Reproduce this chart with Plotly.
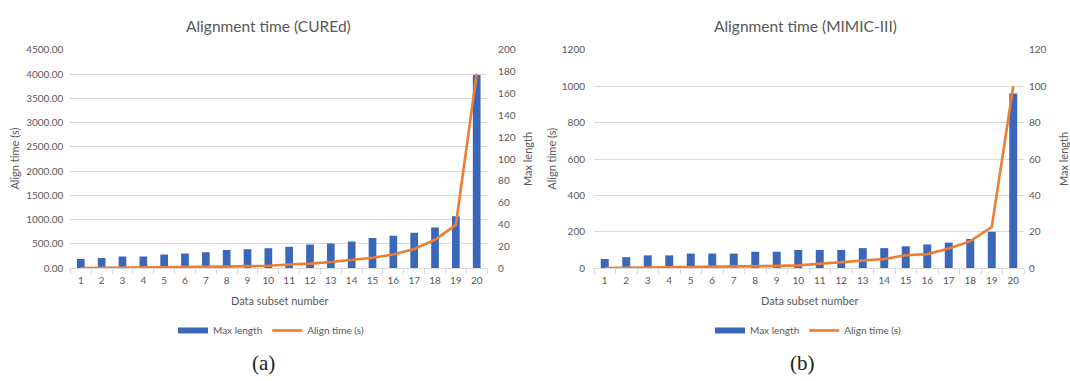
import plotly.graph_objects as go

# Subset numbers shared by both panels
subsets = [str(i) for i in range(1, 21)]

# Panel (a): CUREd
cured_max_length = [190, 210, 240, 240, 280, 300, 327, 373, 387, 407,
                    440, 487, 507, 547, 620, 667, 727, 835, 1067, 3980]
cured_align_time = [0.1, 0.2, 0.3, 0.4, 0.6, 0.8, 1.1, 1.4, 1.8, 2.2,
                    3.3, 4.1, 5.6, 7.4, 9.5, 12.5, 17.5, 26.0, 39.6, 178]

# Panel (b): MIMIC-III
mimic_max_length = [50, 60, 70, 70, 80, 80, 80, 90, 90, 100,
                    100, 100, 110, 110, 120, 130, 140, 160, 200, 960]
mimic_align_time = [0.0, 0.1, 0.2, 0.3, 0.5, 0.7, 0.8, 1.0, 1.2, 1.5,
                    2.3, 3.4, 3.9, 5.0, 7.1, 7.7, 10.8, 14.8, 22.6, 100]

titles = ["Alignment time (CUREd)", "Alignment time (MIMIC-III)"]
captions = ["(a)", "(b)"]

BLUE = "#3A67B9"
ORANGE = "#ED7D31"
GRID = "#D9D9D9"
TXT = "#595959"
FONT = "Lato"

W, H = 1070, 381


def px(x):
    return x / W


def py(y):
    return 1 - y / H


fig = go.Figure()

panels = [
    dict(xa="x", ya="y", ya2="y2", lg="legend", maxlen=cured_max_length,
         align=cured_align_time),
    dict(xa="x2", ya="y3", ya2="y4", lg="legend2", maxlen=mimic_max_length,
         align=mimic_align_time),
]

for p in panels:
    fig.add_trace(go.Bar(x=subsets, y=p["maxlen"], name="Max length",
                         marker=dict(color=BLUE, line=dict(width=0)),
                         showlegend=False,
                         xaxis=p["xa"], yaxis=p["ya"]))
    # wide flat legend key for the bar series
    fig.add_trace(go.Scatter(x=[None], y=[None], name="Max length",
                             mode="lines", line=dict(color=BLUE, width=6),
                             xaxis=p["xa"], yaxis=p["ya"], legend=p["lg"]))
    fig.add_trace(go.Scatter(x=subsets, y=p["align"], name="Align time (s)",
                             mode="lines", line=dict(color=ORANGE, width=2.6),
                             xaxis=p["xa"], yaxis=p["ya2"], legend=p["lg"]))

y_dom = [py(269.6), py(44.3)]
x_doms = [[px(70.4), px(487.1)], [px(594), px(1024)]]

tickfont = dict(family=FONT, size=10, color=TXT)


def x_axis(dom, anchor):
    return dict(domain=dom, anchor=anchor, type="category",
                range=[-0.5, 19.5], showgrid=False, showline=True,
                linecolor=GRID, linewidth=1, ticks="outside",
                tickson="boundaries", ticklen=5, tickcolor=GRID,
                tickangle=0, tickfont=tickfont, ticklabelstandoff=3,
                fixedrange=True)


def y_left(dom, anchor, rng, dtick, fmt, standoff):
    return dict(domain=dom, anchor=anchor, range=rng, dtick=dtick,
                tickformat=fmt, showgrid=True, gridcolor=GRID,
                gridwidth=1, zeroline=False, showline=False,
                tickfont=tickfont, ticklabelstandoff=standoff)


def y_right(overlay, anchor, rng, dtick, standoff):
    return dict(overlaying=overlay, anchor=anchor, side="right", range=rng,
                dtick=dtick, showgrid=False, zeroline=False, showline=False,
                tickfont=tickfont, ticklabelstandoff=standoff)


legend_style = dict(orientation="h", yanchor="middle", xanchor="center",
                    font=dict(family=FONT, size=10, color=TXT),
                    bgcolor="rgba(0,0,0,0)", itemwidth=30, tracegroupgap=0)

fig.update_layout(
    width=W, height=H,
    margin=dict(l=0, r=0, t=0, b=0),
    paper_bgcolor="white", plot_bgcolor="white",
    bargap=0.63,
    font=dict(family=FONT, color=TXT),
    xaxis=x_axis(x_doms[0], "y"),
    yaxis=y_left(y_dom, "x", [0, 4500], 500, ".2f", 6),
    yaxis2=y_right("y", "x", [0, 200], 20, 10),
    xaxis2=x_axis(x_doms[1], "y3"),
    yaxis3=y_left(y_dom, "x2", [0, 1200], 200, "d", 8),
    yaxis4=y_right("y3", "x2", [0, 120], 20, 4),
    legend=dict(x=px(271), y=py(334), **legend_style),
    legend2=dict(x=px(808), y=py(334), **legend_style),
    showlegend=True,
)

annotations = []
# chart titles
for cx, t in zip([268.6, 805.5], titles):
    annotations.append(dict(text=t, x=px(cx), y=py(20), xref="paper",
                            yref="paper", showarrow=False, xanchor="center",
                            yanchor="middle",
                            font=dict(family=FONT, size=15.5, color=TXT)))
# axis titles
axis_titles = [
    (14.5, "Align time (s)"), (527, "Max length"),
    (550.7, "Align time (s)"), (1063, "Max length"),
]
for ax, t in axis_titles:
    annotations.append(dict(text=t, x=px(ax), y=py(157), xref="paper",
                            yref="paper", showarrow=False, textangle=-90,
                            xanchor="center", yanchor="middle",
                            font=dict(family=FONT, size=11, color=TXT)))
for cx in [279, 809]:
    annotations.append(dict(text="Data subset number", x=px(cx), y=py(303),
                            xref="paper", yref="paper", showarrow=False,
                            xanchor="center", yanchor="middle",
                            font=dict(family=FONT, size=11, color=TXT)))
# panel captions
for cx, c in zip([263.4, 802], captions):
    annotations.append(dict(text=c, x=px(cx), y=py(368), xref="paper",
                            yref="paper", showarrow=False, xanchor="center",
                            yanchor="middle",
                            font=dict(family="Liberation Serif", size=21,
                                      color="#222222")))
fig.update_layout(annotations=annotations)

fig.write_html("out.html")
